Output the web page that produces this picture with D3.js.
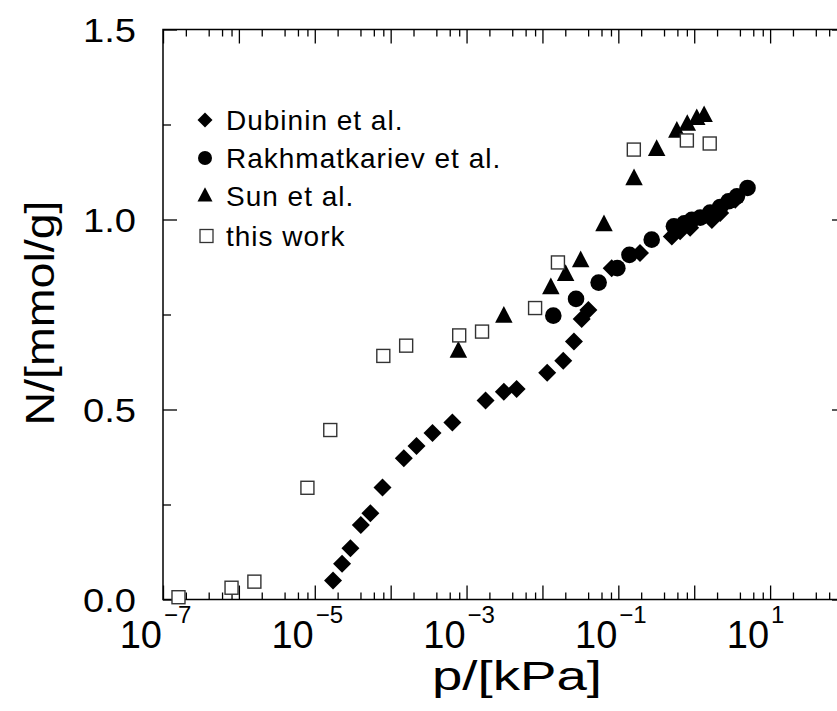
<!DOCTYPE html>
<html><head><meta charset="utf-8">
<script src="https://cdn.jsdelivr.net/npm/d3@7"></script>
<style>
body{margin:0;background:#fff;}
svg{display:block;font-family:"Liberation Sans",Arial,sans-serif;}
</style></head>
<body><svg id="c" width="837" height="711"></svg>
<script>
// ---- data ----
const dubininP = [1.74e-5,2.29e-5,2.95e-5,4.04e-5,5.4e-5,7.8e-5,1.49e-4,2.19e-4,3.56e-4,6.5e-4,1.78e-3,3.1e-3,4.57e-3,1.155e-2,1.88e-2,2.6e-2,3.29e-2,4.03e-2,8.18e-2,0.193,0.507,0.652,0.883,1.71,2.2,3.47];
const dubininN = [0.050,0.094,0.135,0.196,0.227,0.295,0.372,0.404,0.438,0.466,0.524,0.547,0.554,0.597,0.628,0.679,0.738,0.762,0.872,0.912,0.955,0.969,0.978,0.999,1.017,1.052];
const rakhP = [0.0139,0.0277,0.055,0.097,0.14,0.275,0.54,0.74,0.93,1.2,1.62,2.2,2.83,3.65,5.04];
const rakhN = [0.747,0.791,0.834,0.872,0.907,0.947,0.982,0.990,0.999,1.005,1.018,1.033,1.048,1.061,1.083];
const sunP = [7.8e-4,3.1e-3,0.0129,0.0202,0.0319,0.0647,0.161,0.32,0.59,0.81,1.08,1.35];
const sunN = [0.653,0.745,0.820,0.855,0.891,0.986,1.107,1.184,1.232,1.250,1.265,1.273];
const thisP = [1.6e-7,8e-7,1.6e-6,8e-6,1.6e-5,8e-5,1.6e-4,8e-4,1.6e-3,8e-3,1.6e-2,0.16,0.8,1.6];
const thisN = [0.006,0.031,0.047,0.294,0.446,0.641,0.668,0.695,0.705,0.767,0.887,1.184,1.208,1.200];
const seriesNames = ["Dubinin et al.","Rakhmatkariev et al.","Sun et al.","this work"];
const xLabelExps = [-7,-5,-3,-1,1];
const yTickLabels = ["0.0","0.5","1.0","1.5"];
const yMajor = [0,0.5,1.0,1.5];
const yMinor = [0.25,0.75,1.25];
const xTitle = "p/[kPa]";
const yTitle = "N/[mmol/g]";

// ---- layout ----
const svg = d3.select("#c");
const L = 163, R = 846, T = 29.5, B = 599.5;
const x = d3.scaleLog().domain([1e-7,1e2]).range([L,R]);
const y = d3.scaleLinear().domain([0,1.5]).range([B,T]);

const decades = d3.range(-7,3).map(e=>Math.pow(10,e));
const minors = [];
d3.range(-7,2).forEach(e=>[2,4,6,8].forEach(m=>minors.push(m*Math.pow(10,e))));

function styleAxis(g){ g.select(".domain").remove(); g.selectAll("line").attr("stroke","#000").attr("stroke-width",1.3); g.selectAll("text").remove(); }

svg.append("g").attr("transform",`translate(0,${B})`).call(d3.axisBottom(x).tickValues(decades).tickSize(-14)).call(styleAxis);
svg.append("g").attr("transform",`translate(0,${B})`).call(d3.axisBottom(x).tickValues(minors).tickSize(-7)).call(styleAxis);
svg.append("g").attr("transform",`translate(0,${T})`).call(d3.axisTop(x).tickValues(decades).tickSize(-14)).call(styleAxis);
svg.append("g").attr("transform",`translate(0,${T})`).call(d3.axisTop(x).tickValues(minors).tickSize(-7)).call(styleAxis);
svg.append("g").attr("transform",`translate(${L},0)`).call(d3.axisLeft(y).tickValues(yMajor).tickSize(-14)).call(styleAxis);
svg.append("g").attr("transform",`translate(${L},0)`).call(d3.axisLeft(y).tickValues(yMinor).tickSize(-8)).call(styleAxis);
svg.append("g").attr("transform",`translate(${R},0)`).call(d3.axisRight(y).tickValues(yMajor).tickSize(-14)).call(styleAxis);
svg.append("g").attr("transform",`translate(${R},0)`).call(d3.axisRight(y).tickValues(yMinor).tickSize(-8)).call(styleAxis);

svg.append("rect").attr("x",L).attr("y",T).attr("width",R-L).attr("height",B-T)
  .attr("fill","none").attr("stroke","#000").attr("stroke-width",1.5);

// y tick labels
yMajor.forEach((v,i)=>{
  svg.append("text").attr("x",136).attr("y",y(v)).attr("dy","0.36em")
    .attr("text-anchor","end").attr("font-size",34).attr("fill","#000")
    .attr("textLength",53).attr("lengthAdjust","spacingAndGlyphs")
    .text(yTickLabels[i]);
});
// x tick labels
xLabelExps.forEach(e=>{
  const px = x(Math.pow(10,e));
  svg.append("text").attr("x",px-1).attr("y",648).attr("text-anchor","end")
    .attr("font-size",38).attr("fill","#000").text("10");
  svg.append("text").attr("x",px+1).attr("y",623).attr("text-anchor","start")
    .attr("font-size",24).attr("fill","#000").text((e<0?"\u2212":"")+Math.abs(e));
});
// titles
svg.append("text").attr("x",517).attr("y",690).attr("text-anchor","middle")
  .attr("font-size",40).attr("fill","#000").attr("textLength",170).attr("lengthAdjust","spacingAndGlyphs").text(xTitle);
svg.append("text").attr("transform",`translate(54,${313}) rotate(-90)`).attr("text-anchor","middle")
  .attr("font-size",40).attr("fill","#000").attr("textLength",225).attr("lengthAdjust","spacingAndGlyphs").text(yTitle);

function diamondPath(h){ return `M0,${-h}L${h},0L0,${h}L${-h},0Z`; }
function triPath(s){ const h=s*0.95; return `M0,${-h*0.62}L${s/2},${h*0.38}L${-s/2},${h*0.38}Z`; }

const plot = svg.append("g");
plot.selectAll(".dub").data(dubininP.map((p,i)=>[p,dubininN[i]])).join("path")
  .attr("transform",d=>`translate(${x(d[0])},${y(d[1])})`).attr("d",diamondPath(9)).attr("fill","#000");
plot.selectAll(".rak").data(rakhP.map((p,i)=>[p,rakhN[i]])).join("circle")
  .attr("cx",d=>x(d[0])).attr("cy",d=>y(d[1])).attr("r",8.3).attr("fill","#000");
plot.selectAll(".sun").data(sunP.map((p,i)=>[p,sunN[i]])).join("path")
  .attr("transform",d=>`translate(${x(d[0])},${y(d[1])})`).attr("d",triPath(17.5)).attr("fill","#000");
plot.selectAll(".tw").data(thisP.map((p,i)=>[p,thisN[i]])).join("rect")
  .attr("x",d=>x(d[0])-6.5).attr("y",d=>y(d[1])-6.5).attr("width",13).attr("height",13)
  .attr("fill","#fff").attr("stroke","#333").attr("stroke-width",1.4);

// legend
const leg = svg.append("g");
const ly = [120,158,196,236];
leg.append("path").attr("transform",`translate(205,${ly[0]})`).attr("d",diamondPath(7.5)).attr("fill","#000");
leg.append("circle").attr("cx",205).attr("cy",ly[1]).attr("r",7).attr("fill","#000");
leg.append("path").attr("transform",`translate(205,${ly[2]})`).attr("d",triPath(15)).attr("fill","#000");
leg.append("rect").attr("x",200).attr("y",ly[3]-6.5).attr("width",13).attr("height",13).attr("fill","#fff").attr("stroke","#333").attr("stroke-width",1.3);
seriesNames.forEach((n,i)=>{
  leg.append("text").attr("x",226).attr("y",ly[i]).attr("dy","0.36em").attr("font-size",28)
    .attr("letter-spacing",1).attr("fill","#000").text(n);
});
</script></body></html>
